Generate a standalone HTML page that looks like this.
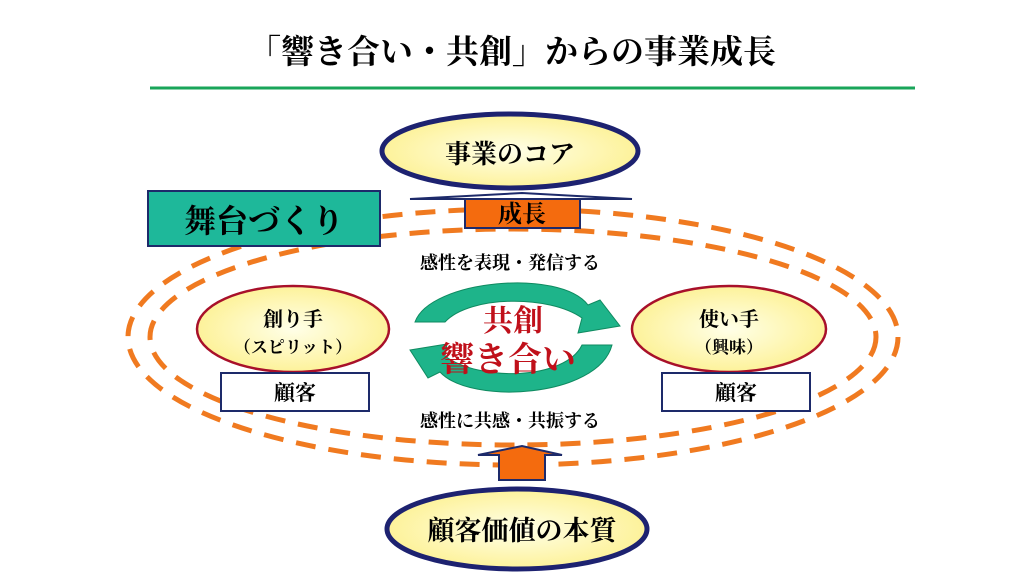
<!DOCTYPE html>
<html><head><meta charset="utf-8"><style>
body{margin:0;width:1024px;height:576px;background:#fff;overflow:hidden}
svg text{font-family:"Liberation Serif","Noto Serif CJK SC",serif;font-weight:bold}
</style></head><body>
<svg width="1024" height="576" viewBox="0 0 1024 576" xmlns="http://www.w3.org/2000/svg">
<defs>
<radialGradient id="y" cx="50%" cy="50%" r="50%"><stop offset="0" stop-color="#ffffe8"/><stop offset="1" stop-color="#fdf29a"/></radialGradient>
</defs>
<text x="512" y="63" font-size="33" text-anchor="middle" fill="#000">「響き合い・共創」からの事業成長</text>
<line x1="150" y1="88" x2="915" y2="88" stroke="#1aa55a" stroke-width="3"/>
<ellipse cx="513" cy="337" rx="385" ry="128" fill="none" stroke="#f07a20" stroke-width="5" stroke-dasharray="20 13"/>
<ellipse cx="513" cy="337" rx="363" ry="108" fill="none" stroke="#f07a20" stroke-width="5" stroke-dasharray="20 13"/>
<rect x="148" y="191" width="232" height="55" fill="#1eb89a" stroke="#1d2a6a" stroke-width="2"/>
<text x="264" y="232" font-size="32" text-anchor="middle">舞台づくり</text>
<ellipse cx="510" cy="151" rx="128" ry="37" fill="url(#y)" stroke="#1d2270" stroke-width="5"/>
<text x="510" y="163" font-size="26" text-anchor="middle">事業のコア</text>
<polygon points="410,199 522,193 632,199" fill="#fff" stroke="#1d2a6a" stroke-width="2"/>
<rect x="465" y="199" width="115" height="29" fill="#f46b0e" stroke="#1d2a6a" stroke-width="2"/>
<text x="522" y="222" font-size="24" text-anchor="middle">成長</text>
<text x="510" y="269" font-size="18" text-anchor="middle">感性を表現・発信する</text>
<text x="510" y="427" font-size="18" text-anchor="middle">感性に共感・共振する</text>
<ellipse cx="293" cy="329" rx="96" ry="43" fill="url(#y)" stroke="#a8102a" stroke-width="2.5"/>
<text x="293" y="326" font-size="20" text-anchor="middle">創り手</text>
<text x="293" y="353" font-size="17" text-anchor="middle">（スピリット）</text>
<ellipse cx="729" cy="329" rx="97" ry="43" fill="url(#y)" stroke="#a8102a" stroke-width="2.5"/>
<text x="729" y="326" font-size="20" text-anchor="middle">使い手</text>
<text x="729" y="353" font-size="17" text-anchor="middle">（興味）</text>
<rect x="221" y="373" width="148" height="38" fill="#fff" stroke="#1d2a6a" stroke-width="2"/>
<text x="295" y="400" font-size="21" text-anchor="middle">顧客</text>
<rect x="662" y="373" width="148" height="38" fill="#fff" stroke="#1d2a6a" stroke-width="2"/>
<text x="736" y="400" font-size="21" text-anchor="middle">顧客</text>
<!-- green cycle arrows -->
<path d="M415,322 C430,280 560,268 588,305 L600,300 L620,326 L578,333 L582,318 C550,295 470,295 445,322 Z" fill="#1eb48a" stroke="#0f8a60" stroke-width="1"/>
<path d="M612,345 C598,398 470,405 440,372 L428,378 L410,350 L447,344 L445,356 C480,382 565,380 582,345 Z" fill="#1eb48a" stroke="#0f8a60" stroke-width="1"/>
<text x="513" y="331" font-size="30" text-anchor="middle" fill="#c0101a">共創</text>
<text x="508" y="371" font-size="34" text-anchor="middle" fill="#c0101a">響き合い</text>
<polygon points="478,455 522,446 562,455 545,455 545,480 499,480 499,455" fill="#f46b0e" stroke="#1d2a6a" stroke-width="2"/>
<ellipse cx="517" cy="529" rx="130" ry="40" fill="url(#y)" stroke="#1d2270" stroke-width="5"/>
<text x="522" y="540" font-size="27" text-anchor="middle">顧客価値の本質</text>
</svg>
</body></html>
